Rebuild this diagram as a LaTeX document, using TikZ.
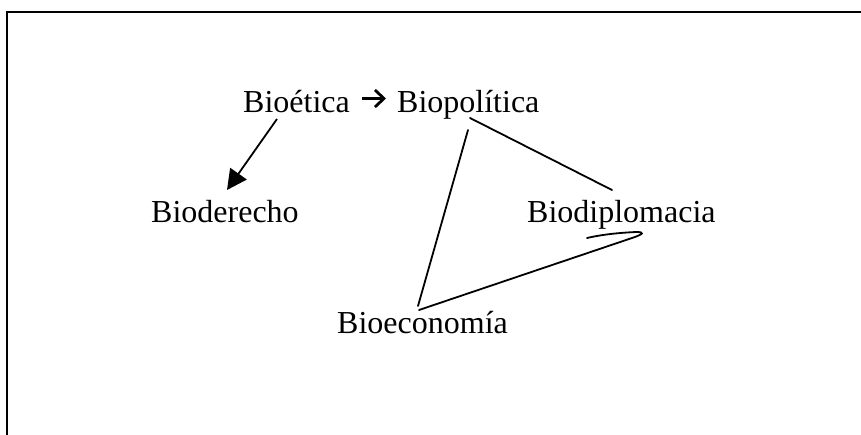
\documentclass[tikz,border=0pt]{standalone}
\usepackage{fontspec}
\setmainfont{Liberation Serif}
\usetikzlibrary{arrows.meta,calc}
\begin{document}
\begin{tikzpicture}[x=1pt,y=-1pt,
  lbl/.style={anchor=base west,inner sep=0pt,font=\fontsize{32}{38}\selectfont},
  conn/.style={line width=1.8pt,line cap=round},
  smallarr/.style={line width=2.8pt,-{Straight Barb[length=9pt,width=17pt,line width=2.8pt]}},
  bigarr/.style={line width=1.8pt,-{Triangle[length=20pt,width=20pt]}}]
\useasboundingbox (0,0) rectangle (861,435);
\draw[line width=1.8pt] (7,435) -- (7,12) -- (861,12);
\node[lbl] (bioetica) at (243,113) {Bioética};
\node[lbl] (biopolitica) at (397,113) {Biopolítica};
\node[lbl] (bioderecho) at (151,223) {Bioderecho};
\node[lbl] (biodiplomacia) at (527,223) {Biodiplomacia};
\node[lbl] (bioeconomia) at (337,333) {Bioeconomía};
\draw[smallarr] ($(bioetica.base east)+(12,-14.5)$) -- ($(biopolitica.base west)+(-11,-14.5)$);
\draw[bigarr] ($(bioetica.base west)+(34,6)$) -- ($(bioderecho.base west)+(76,-33)$);
\draw[conn] ($(biopolitica.base west)+(71,17)$) -- ($(bioeconomia.base west)+(81,-27)$);
\draw[conn] ($(biopolitica.base west)+(73,5)$) -- ($(biodiplomacia.base west)+(85,-33)$);
\draw[conn] ($(bioeconomia.base west)+(82,-23)$) -- ($(biodiplomacia.base west)+(105,15)$)
  .. controls ($(biodiplomacia.base west)+(117,11)$) and ($(biodiplomacia.base west)+(118,9)$) .. ($(biodiplomacia.base west)+(109,9)$)
  .. controls ($(biodiplomacia.base west)+(88,10)$) and ($(biodiplomacia.base west)+(73,12)$) .. ($(biodiplomacia.base west)+(60,15)$);
\end{tikzpicture}
\end{document}
